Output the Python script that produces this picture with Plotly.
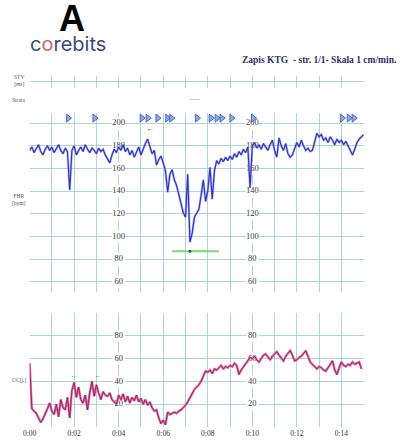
import plotly.graph_objects as go

# ---------------- data ----------------
fhr_time_step = 0.1  # minutes between samples
fhr_bpm = [176, 179, 174, 178, 181, 175, 172, 177, 180, 176,
           179, 174, 177, 181, 176, 173, 178, 175, 141, 176,
           180, 172, 176, 179, 175, 181, 177, 174, 178, 176,
           173, 178, 175, 177, 172, 168, 165, 172, 177, 174,
           179, 176, 181, 175, 178, 172, 176, 170, 175, 179,
           172, 178, 182, 186, 180, 173, 176, 163, 168, 171,
           165, 158, 139, 155, 159, 150, 145, 137, 130, 121,
           117, 155, 95, 103, 117, 120, 124, 136, 150, 131,
           140, 161, 133, 158, 167, 164, 169, 166, 170, 167,
           171, 168, 173, 170, 175, 172, 177, 174, 179, 143,
           180, 183, 178, 181, 177, 182, 179, 176, 181, 185,
           176, 170, 187, 180, 176, 182, 173, 170, 172, 178,
           183, 179, 185, 180, 176, 178, 175, 176, 183, 191,
           188, 190, 185, 187, 183, 188, 185, 181, 186, 183,
           185, 181, 184, 180, 176, 172, 177, 183, 186, 188, 190]

uc_time_step = 0.1
uc_value = [56, 16, 14, 12, 8, 4, 7, 11, 16, 21,
            14, 11, 20, 9, 24, 17, 15, 26, 8, 32,
            39, 26, 35, 24, 21, 28, 15, 30, 40, 27,
            37, 30, 24, 31, 28, 27, 30, 24, 22, 20,
            28, 24, 29, 22, 27, 21, 26, 23, 28, 22,
            25, 20, 24, 19, 22, 17, 14, 15, 8, 3,
            6, 2, 13, 11, 12, 13, 12, 14, 15, 17,
            19, 22, 26, 29, 33, 35, 37, 40, 44, 49,
            48, 50, 47, 51, 50, 52, 54, 51, 53, 52,
            54, 53, 56, 54, 46, 50, 53, 55, 58, 61,
            60, 62, 59, 57, 60, 63, 64, 61, 59, 62,
            64, 66, 63, 60, 58, 62, 65, 67, 63, 58,
            59, 61, 62, 65, 67, 62, 57, 55, 53, 51,
            53, 52, 50, 49, 52, 55, 58, 50, 46, 52,
            57, 54, 53, 55, 54, 57, 55, 56, 57, 51]

event_marks_min = [1.73, 2.92, 5.04, 5.31, 5.75, 6.19, 6.37, 7.52, 8.14, 8.41,
                   8.63, 9.07, 10.04, 14.03, 14.34, 14.56, 16.0]
green_line_min = [6.4, 8.5]
green_line_bpm = 87
green_dot_min = 7.2

minute_ticks = list(range(0, 16))
minute_labels = ["0:00", "", "0:02", "", "0:04", "", "0:06", "", "0:08", "",
                 "0:10", "", "0:12", "", "0:14", ""]
fhr_ticks = [60, 80, 100, 120, 140, 160, 180, 200]
uc_ticks = [0, 20, 40, 60, 80, 100]
uc_label_ticks = [20, 40, 60, 80]
label_columns_min = [4, 10]

fhr_time = [round(i * fhr_time_step, 2) for i in range(len(fhr_bpm))]
uc_time = [round(i * uc_time_step, 2) for i in range(len(uc_value))]

GRID = "#a9d6db"
SERIF = "Liberation Serif"

fig = go.Figure()

# ---- y-axis labels drawn as white-backed text under traces ----
for col in label_columns_min:
    fig.add_trace(go.Scatter(
        x=[col] * len(fhr_ticks), y=fhr_ticks, mode="markers+text",
        text=[str(v) for v in fhr_ticks], textposition="middle center",
        textfont=dict(family=SERIF, size=8.5, color="#3a3a3a"),
        marker=dict(symbol="square", size=13, color="white"),
        xaxis="x2", yaxis="y2", showlegend=False, hoverinfo="skip"))
    fig.add_trace(go.Scatter(
        x=[col] * len(uc_label_ticks), y=uc_label_ticks, mode="markers+text",
        text=[str(v) for v in uc_label_ticks], textposition="middle center",
        textfont=dict(family=SERIF, size=8.5, color="#3a3a3a"),
        marker=dict(symbol="square", size=12, color="white"),
        xaxis="x3", yaxis="y3", showlegend=False, hoverinfo="skip"))

# ---- STV band (empty grid) ----
fig.add_trace(go.Scatter(x=[0, 15], y=[None, None], mode="lines",
                         xaxis="x", yaxis="y", showlegend=False))

# ---- FHR ----
fig.add_trace(go.Scatter(
    x=green_line_min, y=[green_line_bpm] * 2, mode="lines",
    line=dict(color="#7fd27f", width=2), xaxis="x2", yaxis="y2",
    showlegend=False))
fig.add_trace(go.Scatter(
    x=[green_dot_min], y=[green_line_bpm], mode="markers",
    marker=dict(color="#2f5f3f", size=3), xaxis="x2", yaxis="y2",
    showlegend=False))
fig.add_trace(go.Scatter(
    x=fhr_time, y=fhr_bpm, mode="lines",
    line=dict(color="#8f93e6", width=2.4), xaxis="x2", yaxis="y2",
    showlegend=False, opacity=0.6))
fig.add_trace(go.Scatter(
    x=fhr_time, y=fhr_bpm, mode="lines",
    line=dict(color="#3035c0", width=1.2), xaxis="x2", yaxis="y2",
    showlegend=False))
fig.add_trace(go.Scatter(
    x=event_marks_min, y=[204.5] * len(event_marks_min), mode="markers",
    marker=dict(symbol="triangle-right", size=7, color="#8fa8e4",
                line=dict(color="#3556b8", width=0.8)),
    xaxis="x2", yaxis="y2", showlegend=False, cliponaxis=False))

# ---- UC ----
fig.add_trace(go.Scatter(
    x=uc_time, y=uc_value, mode="lines",
    line=dict(color="#e86aa8", width=2.4), xaxis="x3", yaxis="y3",
    showlegend=False))
fig.add_trace(go.Scatter(
    x=uc_time, y=uc_value, mode="lines",
    line=dict(color="#7a1d4c", width=0.8), xaxis="x3", yaxis="y3",
    showlegend=False))

xdom = [23 / 401, 363 / 401]
xcommon = dict(domain=xdom, range=[0, 15], tickvals=minute_ticks,
               showgrid=True, gridcolor=GRID, gridwidth=1, zeroline=False,
               showline=False, ticks="", fixedrange=True)

fig.update_layout(
    width=401, height=440,
    margin=dict(l=0, r=0, t=0, b=0),
    paper_bgcolor="white", plot_bgcolor="white",
    xaxis=dict(**xcommon, anchor="y", showticklabels=False),
    yaxis=dict(domain=[1 - 87.5 / 440, 1 - 76 / 440], range=[0, 2],
               tickvals=[0, 1, 2], showgrid=True, gridcolor=GRID,
               zeroline=False, showticklabels=False, ticks=""),
    xaxis2=dict(**xcommon, anchor="y2", showticklabels=False),
    yaxis2=dict(domain=[1 - 292 / 440, 1 - 113 / 440], range=[51, 209],
                tickvals=fhr_ticks, showgrid=True, gridcolor=GRID,
                zeroline=False, showticklabels=False, ticks=""),
    xaxis3=dict(**xcommon, anchor="y3", showticklabels=True,
                ticktext=minute_labels,
                tickfont=dict(family=SERIF, size=7.5, color="#333")),
    yaxis3=dict(domain=[1 - 427 / 440, 1 - 313 / 440], range=[0, 100],
                tickvals=uc_ticks, showgrid=True, gridcolor=GRID,
                zeroline=False, showticklabels=False, ticks=""),
    showlegend=False,
)

ann = []
ann.append(dict(text="<b>A</b>", x=66 / 401, y=1 - 18 / 440, xref="paper",
                yref="paper", showarrow=False, xanchor="center",
                yanchor="middle", height=30,
                font=dict(family="Liberation Sans", size=36, color="black")))
ann.append(dict(text="c<span style='color:#d9606e'>o</span>rebits",
                x=62 / 401, y=1 - 44 / 440, xref="paper", yref="paper",
                showarrow=False, xanchor="center", yanchor="middle", height=18,
                font=dict(family="Inter", size=20, color="#3b4a7c")))
ann.append(dict(text="<b>Zapis KTG  - str. 1/1- Skala 1 cm/min.</b>",
                x=398 / 401, y=1 - 60 / 440, xref="paper", yref="paper",
                xanchor="right", yanchor="middle", showarrow=False,
                font=dict(family=SERIF, size=9.5, color="#2a2f6e")))
for txt, yy in [("STV<br>[ms]", 80), ("Strata", 100), ("FHR<br>[bpm]", 199),
                ("UC[j.]", 380)]:
    ann.append(dict(text=txt, x=12 / 401, y=1 - yy / 440, xref="paper",
                    yref="paper", showarrow=False, xanchor="center",
                    yanchor="middle",
                    font=dict(family=SERIF, size=5.5, color="#555")))
# arrows
ann.append(dict(text="←", x=5.4, y=196.5, xref="x2", yref="y2",
                showarrow=False, xanchor="center", yanchor="middle",
                font=dict(size=8, color="#333")))
for xm in [2.0, 3.05]:
    ann.append(dict(text="←", x=xm, y=46, xref="x3", yref="y3",
                    showarrow=False, xanchor="center", yanchor="middle",
                    font=dict(size=8, color="#3f8a8a")))
fig.update_layout(annotations=ann)

fig.add_shape(type="line", xref="paper", yref="paper",
              x0=186 / 401, x1=196 / 401, y0=1 - 99.5 / 440, y1=1 - 99.5 / 440,
              line=dict(color="#cfcfcf", width=1))

fig.write_html("out.html",
               config={"displayModeBar": False},
               post_script="document.body.style.margin='0';"
                           "document.body.style.overflow='hidden';")
